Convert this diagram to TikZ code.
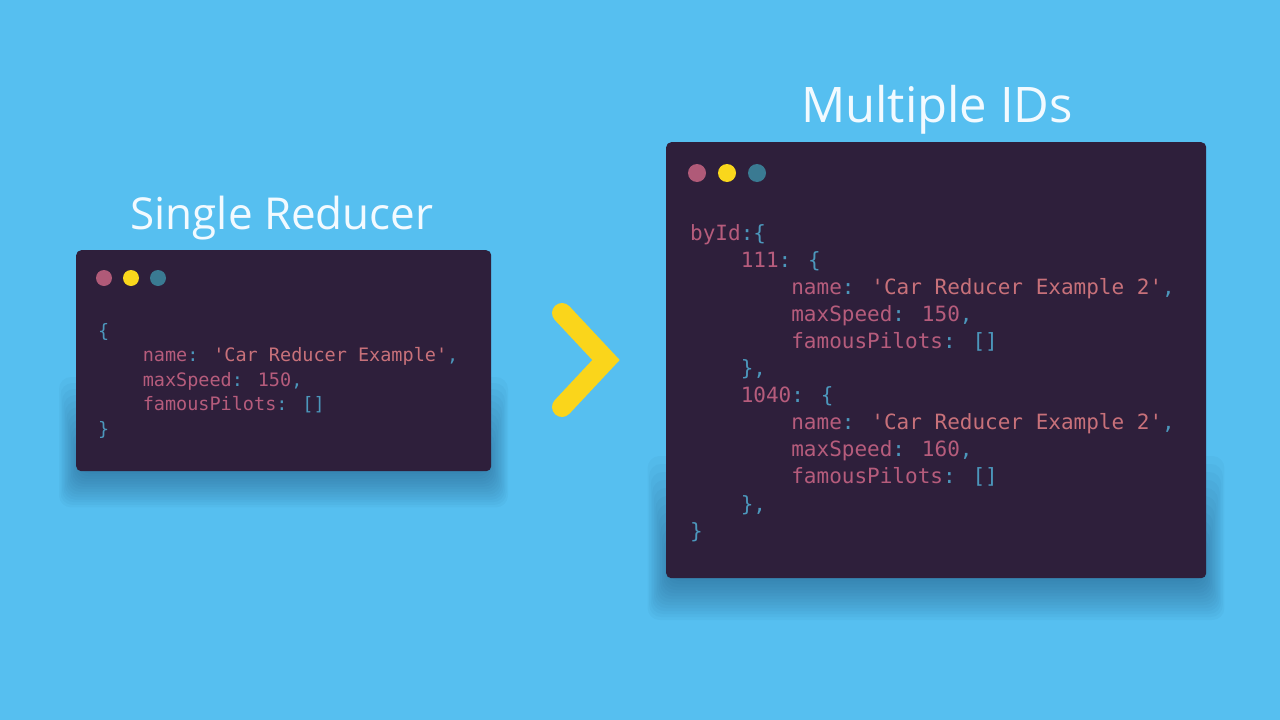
\documentclass[tikz,border=0pt]{standalone}
\usepackage{fontspec}
\newfontfamily\titlefont{Open Sans}
\newfontfamily\codefont{DejaVu Sans Mono}
\definecolor{bgblue}{HTML}{56BFF0}
\definecolor{shadowblue}{HTML}{1F4F78}
\definecolor{winbg}{HTML}{2E1F3B}
\definecolor{dotpink}{HTML}{B05A78}
\definecolor{dotyellow}{HTML}{F9D71C}
\definecolor{dotteal}{HTML}{3A7A92}
\definecolor{codekey}{HTML}{B65C7C}
\definecolor{codestr}{HTML}{C8717A}
\definecolor{codepunct}{HTML}{4C97BC}
\definecolor{titlewhite}{HTML}{F2FAFF}
\definecolor{chevyellow}{HTML}{FAD51B}
\newcommand{\cpun}[1]{\textcolor{codepunct}{#1}}
\newcommand{\cstr}[1]{\textcolor{codestr}{#1}}
\newcommand{\ind}{\phantom{0000}}
\begin{document}
\begin{tikzpicture}[x=1pt,y=-1pt]
  % Define styles for windows, dots and code
  \tikzset{
    window/.style={fill=winbg, rounded corners=5pt, inner sep=0, anchor=north west},
    dot/.style={circle, inner sep=0, minimum size=#1},
    title/.style={font=\titlefont\fontsize{44}{50}\selectfont, text=titlewhite, anchor=base},
    code small/.style={font=\codefont\fontsize{18.5}{22}\selectfont, text=codekey, anchor=base west, inner sep=0},
    code large/.style={font=\codefont\fontsize{21}{25}\selectfont, text=codekey, anchor=base west, inner sep=0},
    chevron/.style={draw=chevyellow, line width=20pt, line cap=round, line join=miter}
  }
  \fill[bgblue] (0,0) rectangle (1280,720);
  \useasboundingbox (0,0) rectangle (1280,720);

  % Soft shadows
  \foreach \k in {1,...,14}{
    \fill[shadowblue, opacity=0.045, rounded corners=12pt]
      ({80-\k*1.5},{461-\k*6}) rectangle ({487+\k*1.5},{471+\k*2.6});
    \fill[shadowblue, opacity=0.045, rounded corners=12pt]
      ({670-\k*1.6},{568-\k*8}) rectangle ({1202+\k*1.6},{578+\k*3});
  }

  % Titles
  \node[title] (tsingle) at (282,229) {Single Reducer};
  \node[title, font=\titlefont\fontsize{49}{55}\selectfont] (tmulti) at (937,122) {Multiple IDs};

  % Small window
  \node[window, minimum width=415pt, minimum height=221pt] (small) at (76,250) {};
  \node[dot=16pt, fill=dotpink] (sd1) at (104,278) {};
  \node[dot=16pt, fill=dotyellow] (sd2) at (131,278) {};
  \node[dot=16pt, fill=dotteal] (sd3) at (158,278) {};

  \node[code small] (s1) at (98,337) {\cpun{\{}};
  \node[code small] (s2) at (98,361.6) {\ind name\cpun{:} \cstr{'Car Reducer Example'}\cpun{,}};
  \node[code small] (s3) at (98,386.2) {\ind maxSpeed\cpun{:} 150\cpun{,}};
  \node[code small] (s4) at (98,410.8) {\ind famousPilots\cpun{:} \cpun{[]}};
  \node[code small] (s5) at (98,435.4) {\cpun{\}}};

  % Chevron
  \coordinate (ctop) at (562,313);
  \coordinate (ctip) at (606,360);
  \coordinate (cbot) at (562,407);
  \draw[chevron] (ctop) -- (ctip) -- (cbot);

  % Large window
  \node[window, minimum width=540pt, minimum height=436pt] (large) at (666,142) {};
  \node[dot=18pt, fill=dotpink] (ld1) at (697,173) {};
  \node[dot=18pt, fill=dotyellow] (ld2) at (727,173) {};
  \node[dot=18pt, fill=dotteal] (ld3) at (757,173) {};

  \node[code large] (m1) at (690,240) {byId\cpun{:\{}};
  \node[code large] (m2) at (690,267.1) {\ind 111\cpun{:} \cpun{\{}};
  \node[code large] (m3) at (690,294.2) {\ind\ind name\cpun{:} \cstr{'Car Reducer Example 2'}\cpun{,}};
  \node[code large] (m4) at (690,321.3) {\ind\ind maxSpeed\cpun{:} 150\cpun{,}};
  \node[code large] (m5) at (690,348.4) {\ind\ind famousPilots\cpun{:} \cpun{[]}};
  \node[code large] (m6) at (690,375.5) {\ind\cpun{\},}};
  \node[code large] (m7) at (690,402.6) {\ind 1040\cpun{:} \cpun{\{}};
  \node[code large] (m8) at (690,429.7) {\ind\ind name\cpun{:} \cstr{'Car Reducer Example 2'}\cpun{,}};
  \node[code large] (m9) at (690,456.8) {\ind\ind maxSpeed\cpun{:} 160\cpun{,}};
  \node[code large] (m10) at (690,483.9) {\ind\ind famousPilots\cpun{:} \cpun{[]}};
  \node[code large] (m11) at (690,511) {\ind\cpun{\},}};
  \node[code large] (m12) at (690,538.1) {\cpun{\}}};
\end{tikzpicture}
\end{document}
